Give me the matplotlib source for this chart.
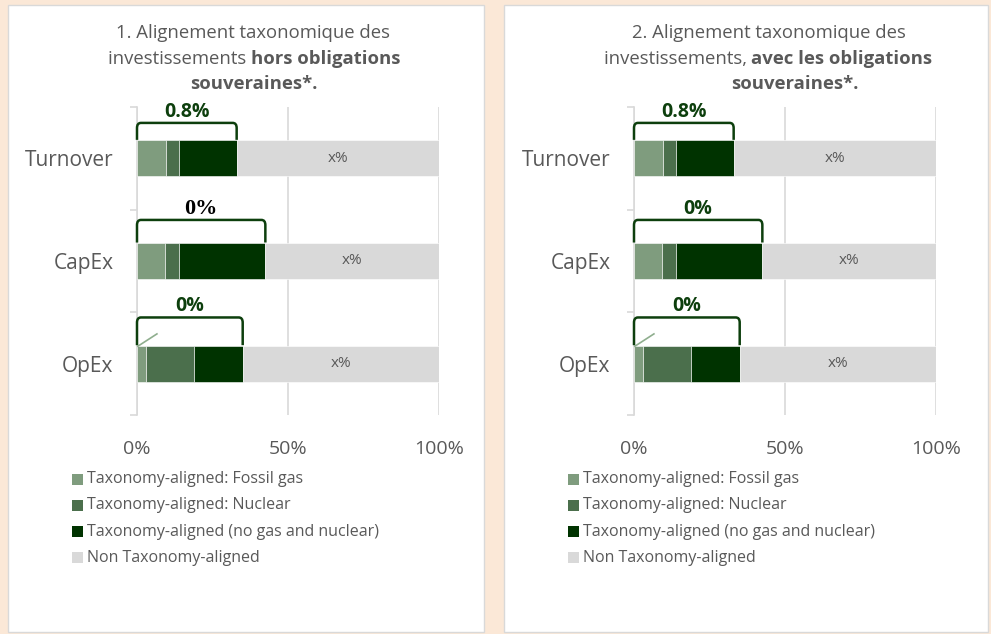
import matplotlib.pyplot as plt
from matplotlib.patches import Rectangle, PathPatch
from matplotlib.path import Path

plt.rcParams['font.family'] = ['Open Sans', 'DejaVu Sans']

# data (same figures shown in both panels)
categories = ['Turnover', 'CapEx', 'OpEx']
fossil_gas = [9.5, 9.3, 3.0]
nuclear = [4.5, 4.7, 16.0]
aligned_other = [19.0, 28.5, 16.0]
non_aligned = [67.0, 57.5, 65.0]
bracket_labels = ['0.8%', '0%', '0%']
gray_labels = ['x%', 'x%', 'x%']
x_ticks = [0, 50, 100]
x_tick_labels = ['0%', '50%', '100%']
legend_labels = ['Taxonomy-aligned: Fossil gas',
                 'Taxonomy-aligned: Nuclear',
                 'Taxonomy-aligned (no gas and nuclear)',
                 'Non Taxonomy-aligned']
colors = ['#7f9c7e', '#4b6f4c', '#003300', '#d9d9d9']

W, H = 991, 634
TXT = '#595959'
BRK = '#0d3f0d'

fig = plt.figure(figsize=(W / 100, H / 100), dpi=100, facecolor='#fbe8d7')


def fx(px):
    return px / W


def fy(py):
    return 1 - py / H


# white panels
for x0, x1 in [(8, 484), (504, 988)]:
    fig.patches.append(Rectangle((fx(x0), fy(632)), (x1 - x0) / W, (632 - 5) / H,
                                 transform=fig.transFigure, facecolor='white',
                                 edgecolor='#d9d9d9', lw=1, zorder=-5))

renderer = fig.canvas.get_renderer()


def text_width(s, size, weight):
    t1 = fig.text(0, 0, s + 'x', fontsize=size, fontweight=weight)
    t2 = fig.text(0, 0, 'x', fontsize=size, fontweight=weight)
    w = t1.get_window_extent(renderer).width - t2.get_window_extent(renderer).width
    t1.remove()
    t2.remove()
    return w


def rich_line(parts, cx, y, size=13.3):
    widths = [text_width(s, size, w) for s, w in parts]
    x = cx - sum(widths) / 2
    for (s, w), wd in zip(parts, widths):
        fig.text(fx(x), fy(y), s, fontsize=size, fontweight=w, color=TXT, va='baseline')
        x += wd


def bracket(ax, x0, x1, yb, yt):
    rx, ry = 1.3, 0.05
    verts = [(x0, yb), (x0, yt + ry), (x0, yt), (x0 + rx, yt), (x1 - rx, yt),
             (x1, yt), (x1, yt + ry), (x1, yb)]
    codes = [Path.MOVETO, Path.LINETO, Path.CURVE3, Path.CURVE3, Path.LINETO,
             Path.CURVE3, Path.CURVE3, Path.LINETO]
    ax.add_patch(PathPatch(Path(verts, codes), fill=False, edgecolor=BRK, lw=1.8,
                           clip_on=False, zorder=5))


bracket_rise = [0.345, 0.40, 0.45]


def draw_chart(left_px, serif_capex):
    ax = fig.add_axes([fx(left_px), fy(415), 302 / W, 308 / H])
    ax.set_facecolor('none')
    pos = list(range(len(categories)))
    lefts = [0.0] * len(categories)
    for vals, c in zip([fossil_gas, nuclear, aligned_other, non_aligned], colors):
        ax.barh(pos, vals, left=lefts, height=0.35, color=c, edgecolor='white',
                linewidth=0.4, zorder=3)
        lefts = [a + b for a, b in zip(lefts, vals)]

    ax.set_xlim(0, 100)
    ax.set_ylim(2.5, -0.5)
    for s in ['top', 'right', 'bottom']:
        ax.spines[s].set_visible(False)
    ax.spines['left'].set_color('#d9d9d9')
    ax.spines['left'].set_linewidth(1.2)
    ax.set_xticks(x_ticks)
    ax.set_xticklabels(x_tick_labels)
    ax.tick_params(axis='x', length=0, labelsize=14, labelcolor=TXT, pad=18)
    ax.xaxis.grid(True, color='#d9d9d9', lw=1.2, zorder=0)
    ax.set_yticks(pos)
    ax.set_yticklabels(categories)
    ax.tick_params(axis='y', length=0, labelsize=15, labelcolor=TXT, pad=17)
    ax.set_yticks([-0.5, 0.5, 1.5, 2.5], minor=True)
    ax.tick_params(axis='y', which='minor', length=5, color='#d9d9d9', width=1.2)

    for i in pos:
        total = fossil_gas[i] + nuclear[i] + aligned_other[i]
        ax.text(total + non_aligned[i] / 2, i, gray_labels[i], ha='center', va='center',
                fontsize=11, color=TXT, zorder=4)
        yt = i - bracket_rise[i]
        bracket(ax, 0, total, i - 0.18, yt)
        if serif_capex and categories[i] == 'CapEx':
            ax.text(total / 2, yt - 0.06, bracket_labels[i], ha='center', va='baseline',
                    fontsize=16, fontweight='bold', color='black',
                    family=['Liberation Serif', 'DejaVu Serif'])
        else:
            ax.text(total / 2, yt - 0.06, bracket_labels[i], ha='center', va='baseline',
                    fontsize=14, fontweight='bold', color=BRK)
    # small leader line on OpEx
    ax.plot([0.3, 6.6], [2 - 0.17, 2 - 0.29], color='#8fae8e', lw=1.2, zorder=4,
            clip_on=False)
    return ax


draw_chart(137, True)
draw_chart(634, False)

# titles
rich_line([('1. Alignement taxonomique des', 'normal')], 253, 38)
rich_line([('investissements ', 'normal'), ('hors obligations', 'bold')], 254, 63.5)
rich_line([('souveraines*.', 'bold')], 254, 89)
rich_line([('2. Alignement taxonomique des', 'normal')], 769, 38)
rich_line([('investissements, ', 'normal'), ('avec les obligations', 'bold')], 768, 63.5)
rich_line([('souveraines*.', 'bold')], 795, 89)

# legends
for sq_x in [72, 568]:
    for k, (lab, c) in enumerate(zip(legend_labels, colors)):
        yc = 479 + k * 26.3
        fig.patches.append(Rectangle((fx(sq_x), fy(yc + 5.5)), 11 / W, 11 / H,
                                     transform=fig.transFigure, facecolor=c,
                                     edgecolor='none', zorder=2))
        fig.text(fx(sq_x + 15), fy(yc), lab, fontsize=11.5, color=TXT, va='center')

fig.savefig('out.png', dpi=100, facecolor=fig.get_facecolor())
